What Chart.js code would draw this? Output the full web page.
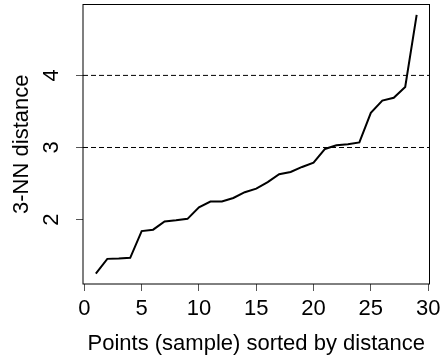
<!DOCTYPE html>
<html>
<head>
<meta charset="utf-8">
<script src="https://cdn.jsdelivr.net/npm/chart.js@4/dist/chart.umd.min.js"></script>
<style>
    body { margin: 0; background: #fff; }
    #wrap { width: 440px; height: 358px; }
</style>
</head>
<body>
<div id="wrap"><canvas id="knnChart" width="440" height="358"></canvas></div>
<script>
// Sorted 3-NN distances, one per sample point
const pointIndex = [1, 2, 3, 4, 5, 6, 7, 8, 9, 10, 11, 12, 13, 14, 15, 16, 17, 18, 19, 20, 21, 22, 23, 24, 25, 26, 27, 28, 29];
const knnDistance = [1.25, 1.455, 1.46, 1.47, 1.84, 1.86, 1.975, 1.99, 2.01, 2.17, 2.25, 2.25, 2.30, 2.38,
    2.43, 2.52, 2.63, 2.66, 2.73, 2.79, 2.98, 3.03, 3.045, 3.07, 3.48, 3.65, 3.69, 3.84, 4.84];
const refLines = [3, 4];
const xTicks = [0, 5, 10, 15, 20, 25, 30];
const yTicks = [2, 3, 4];

// R-style axis limits: data range extended by 4% on each side
const xLo = Math.min(...pointIndex), xHi = Math.max(...pointIndex);
const yLo = Math.min(...knnDistance), yHi = Math.max(...knnDistance);
const xMin = xLo - 0.04 * (xHi - xLo), xMax = xHi + 0.04 * (xHi - xLo);
const yMin = yLo - 0.04 * (yHi - yLo), yMax = yHi + 0.04 * (yHi - yLo);

const font = { family: "'Liberation Sans', Arial, sans-serif", size: 22 };

// keep the plot region fixed: no extra room for overhanging labels
function fixSize(s, size) {
    if (s.isHorizontal()) s.height = size; else s.width = size;
    s.paddingLeft = 0;
    s.paddingRight = 0;
    s.paddingTop = 0;
    s.paddingBottom = 0;
}

// Draws the box around the plot region
const boxPlugin = {
    id: 'box',
    afterDraw(chart) {
        const { ctx, chartArea: a } = chart;
        ctx.save();
        ctx.strokeStyle = '#000';
        ctx.lineWidth = 1;
        ctx.strokeRect(a.left, a.top, a.right - a.left, a.bottom - a.top);
        ctx.restore();
    }
};

const datasets = [{
    data: pointIndex.map((x, i) => ({ x: x, y: knnDistance[i] })),
    borderColor: '#000',
    borderWidth: 2,
    pointRadius: 0,
    tension: 0,
    fill: false,
}];
refLines.forEach(v => {
    datasets.push({
        data: [{ x: xMin, y: v }, { x: xMax, y: v }],
        borderColor: '#000',
        borderWidth: 1,
        borderDash: [5, 3],
        pointRadius: 0,
        fill: false,
    });
});

new Chart(document.getElementById('knnChart'), {
    type: 'line',
    data: { datasets: datasets },
    options: {
        responsive: false,
        animation: false,
        layout: { padding: { top: 4.5, right: 10.5, left: 0, bottom: 0 } },
        plugins: { legend: { display: false }, tooltip: { enabled: false } },
        scales: {
            x: {
                type: 'linear',
                min: xMin,
                max: xMax,
                afterBuildTicks: s => { s.ticks = xTicks.map(v => ({ value: v })); },
                afterFit: s => fixSize(s, 74),
                grid: { drawOnChartArea: false, tickLength: 7, color: '#555' },
                border: { display: false },
                ticks: { font: font, color: '#000', padding: 5, maxRotation: 0 },
                title: { display: true, text: 'Points (sample) sorted by distance', font: font, color: '#000', padding: { top: 0, bottom: 1 } },
            },
            y: {
                min: yMin,
                max: yMax,
                afterBuildTicks: s => { s.ticks = yTicks.map(v => ({ value: v })); },
                afterFit: s => fixSize(s, 83),
                grid: { drawOnChartArea: false, tickLength: 7, color: '#555' },
                border: { display: false },
                ticks: { font: font, color: '#000', padding: 18, minRotation: 90, maxRotation: 90, crossAlign: 'center' },
                title: { display: true, text: '3-NN distance', font: font, color: '#000', padding: { top: 9, bottom: 0 } },
            },
        },
    },
    plugins: [boxPlugin],
});
</script>
</body>
</html>
